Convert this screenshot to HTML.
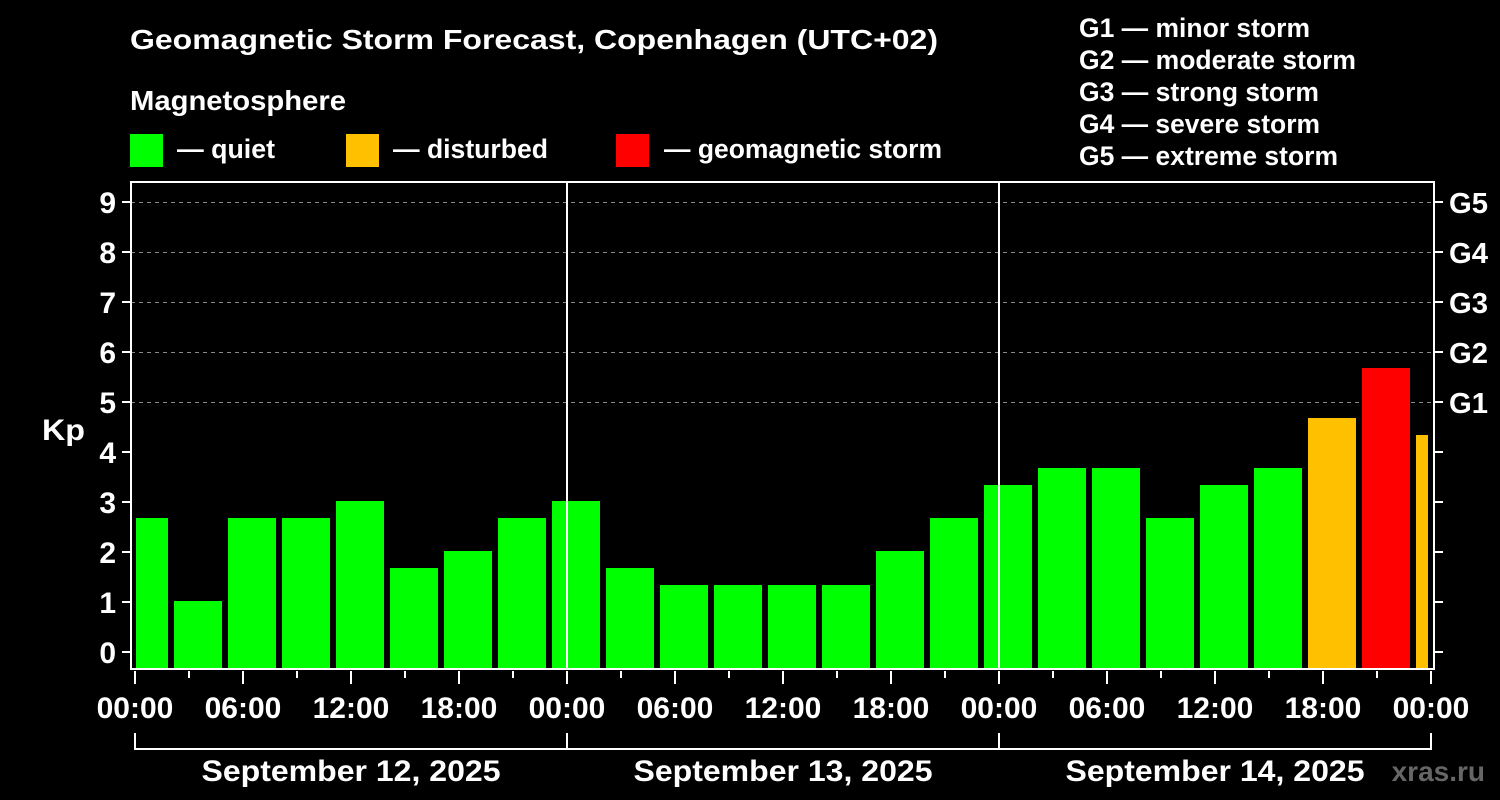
<!DOCTYPE html>
<html><head><meta charset="utf-8"><style>
html,body{margin:0;padding:0;background:#000;}
svg{display:block;font-family:"Liberation Sans",Arial,sans-serif;font-weight:bold;}
</style></head><body>
<svg width="1500" height="800" xmlns="http://www.w3.org/2000/svg">
<rect width="1500" height="800" fill="#000"/>
<g fill="#fff" font-size="28" lengthAdjust="spacingAndGlyphs">
<text x="130" y="49" textLength="808" lengthAdjust="spacingAndGlyphs">Geomagnetic Storm Forecast, Copenhagen (UTC+02)</text>
<text x="130" y="110" textLength="216" lengthAdjust="spacingAndGlyphs">Magnetosphere</text>
<text x="177" y="158" font-size="27" textLength="98" lengthAdjust="spacingAndGlyphs">— quiet</text>
<text x="393" y="158" font-size="27" textLength="155" lengthAdjust="spacingAndGlyphs">— disturbed</text>
<text x="664" y="158" font-size="27" textLength="278" lengthAdjust="spacingAndGlyphs">— geomagnetic storm</text>
<text x="1079" y="37" font-size="27" textLength="231" lengthAdjust="spacingAndGlyphs">G1 — minor storm</text>
<text x="1079" y="69" font-size="27" textLength="277" lengthAdjust="spacingAndGlyphs">G2 — moderate storm</text>
<text x="1079" y="101" font-size="27" textLength="240" lengthAdjust="spacingAndGlyphs">G3 — strong storm</text>
<text x="1079" y="133" font-size="27" textLength="241" lengthAdjust="spacingAndGlyphs">G4 — severe storm</text>
<text x="1079" y="165" font-size="27" textLength="259" lengthAdjust="spacingAndGlyphs">G5 — extreme storm</text>
</g>
<rect x="130" y="134" width="33" height="33" fill="#00ff00"/>
<rect x="346" y="134" width="33" height="33" fill="#ffc000"/>
<rect x="616" y="134" width="33" height="33" fill="#ff0000"/>
<g stroke="#888" stroke-dasharray="4,4" stroke-width="1">
<line x1="131" x2="1434" y1="402.5" y2="402.5"/>
<line x1="131" x2="1434" y1="352.5" y2="352.5"/>
<line x1="131" x2="1434" y1="302.5" y2="302.5"/>
<line x1="131" x2="1434" y1="252.5" y2="252.5"/>
<line x1="131" x2="1434" y1="202.5" y2="202.5"/>
</g>
<g>
<rect x="136" y="518" width="32" height="151" fill="#00ff00"/>
<rect x="174" y="601" width="48" height="68" fill="#00ff00"/>
<rect x="228" y="518" width="48" height="151" fill="#00ff00"/>
<rect x="282" y="518" width="48" height="151" fill="#00ff00"/>
<rect x="336" y="501" width="48" height="168" fill="#00ff00"/>
<rect x="390" y="568" width="48" height="101" fill="#00ff00"/>
<rect x="444" y="551" width="48" height="118" fill="#00ff00"/>
<rect x="498" y="518" width="48" height="151" fill="#00ff00"/>
<rect x="552" y="501" width="48" height="168" fill="#00ff00"/>
<rect x="606" y="568" width="48" height="101" fill="#00ff00"/>
<rect x="660" y="585" width="48" height="84" fill="#00ff00"/>
<rect x="714" y="585" width="48" height="84" fill="#00ff00"/>
<rect x="768" y="585" width="48" height="84" fill="#00ff00"/>
<rect x="822" y="585" width="48" height="84" fill="#00ff00"/>
<rect x="876" y="551" width="48" height="118" fill="#00ff00"/>
<rect x="930" y="518" width="48" height="151" fill="#00ff00"/>
<rect x="984" y="485" width="48" height="184" fill="#00ff00"/>
<rect x="1038" y="468" width="48" height="201" fill="#00ff00"/>
<rect x="1092" y="468" width="48" height="201" fill="#00ff00"/>
<rect x="1146" y="518" width="48" height="151" fill="#00ff00"/>
<rect x="1200" y="485" width="48" height="184" fill="#00ff00"/>
<rect x="1254" y="468" width="48" height="201" fill="#00ff00"/>
<rect x="1308" y="418" width="48" height="251" fill="#ffc000"/>
<rect x="1362" y="368" width="48" height="301" fill="#ff0000"/>
<rect x="1416" y="435" width="12" height="234" fill="#ffc000"/>
</g>
<g stroke="#fff" stroke-width="2" fill="none">
<rect x="131" y="182" width="1303" height="487"/>
<line x1="567" y1="182" x2="567" y2="669"/>
<line x1="999" y1="182" x2="999" y2="669"/>
<path d="M122 652H131M122 602H131M122 552H131M122 502H131M122 452H131M122 402H131M122 352H131M122 302H131M122 252H131M122 202H131"/>
<path d="M1434 652H1443M1434 602H1443M1434 552H1443M1434 502H1443M1434 452H1443M1434 402H1443M1434 352H1443M1434 302H1443M1434 252H1443M1434 202H1443"/>
<path d="M135 671V684M189 671V678M243 671V684M297 671V678M351 671V684M405 671V678M459 671V684M513 671V678M567 671V684M621 671V678M675 671V684M729 671V678M783 671V684M837 671V678M891 671V684M945 671V678M999 671V684M1053 671V678M1107 671V684M1161 671V678M1215 671V684M1269 671V678M1323 671V684M1377 671V678M1431 671V684"/>
<path d="M135 733V749H1431V733M567 733V749M999 733V749"/>
</g>
<g fill="#fff" font-size="30" text-anchor="end">
<text x="116" y="663">0</text><text x="116" y="613">1</text><text x="116" y="563">2</text><text x="116" y="513">3</text><text x="116" y="463">4</text><text x="116" y="413">5</text><text x="116" y="363">6</text><text x="116" y="313">7</text><text x="116" y="263">8</text><text x="116" y="213">9</text>
</g>
<text x="42" y="440" fill="#fff" font-size="30" textLength="43" lengthAdjust="spacingAndGlyphs">Kp</text>
<g fill="#fff" font-size="29">
<text x="1449" y="413" textLength="39" lengthAdjust="spacingAndGlyphs">G1</text><text x="1449" y="363" textLength="39" lengthAdjust="spacingAndGlyphs">G2</text><text x="1449" y="313" textLength="39" lengthAdjust="spacingAndGlyphs">G3</text><text x="1449" y="263" textLength="39" lengthAdjust="spacingAndGlyphs">G4</text><text x="1449" y="213" textLength="39" lengthAdjust="spacingAndGlyphs">G5</text>
</g>
<g fill="#fff" font-size="30" text-anchor="middle">
<text x="135" y="718">00:00</text><text x="243" y="718">06:00</text><text x="351" y="718">12:00</text><text x="459" y="718">18:00</text>
<text x="567" y="718">00:00</text><text x="675" y="718">06:00</text><text x="783" y="718">12:00</text><text x="891" y="718">18:00</text>
<text x="999" y="718">00:00</text><text x="1107" y="718">06:00</text><text x="1215" y="718">12:00</text><text x="1323" y="718">18:00</text>
<text x="1431" y="718">00:00</text>
<text x="351" y="781" textLength="299" lengthAdjust="spacingAndGlyphs">September 12, 2025</text>
<text x="783" y="781" textLength="299" lengthAdjust="spacingAndGlyphs">September 13, 2025</text>
<text x="1215" y="781" textLength="299" lengthAdjust="spacingAndGlyphs">September 14, 2025</text>
</g>
<text x="1485" y="781" fill="#666" font-size="28" text-anchor="end">xras.ru</text>
</svg>
</body></html>
